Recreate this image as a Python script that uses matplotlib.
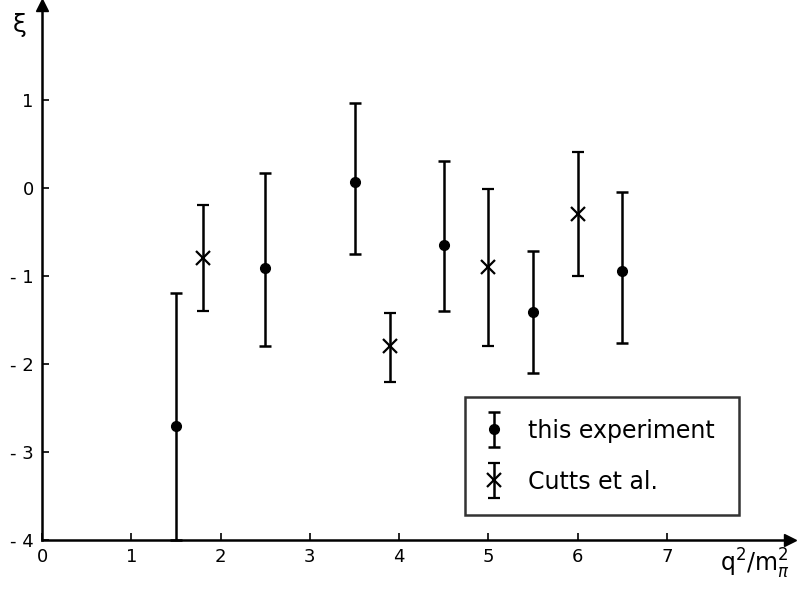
import matplotlib
matplotlib.use("Agg")
import matplotlib.pyplot as plt
from matplotlib.legend_handler import HandlerErrorbar
from matplotlib.container import ErrorbarContainer

# this experiment
x_exp = [1.5, 2.5, 3.5, 4.5, 5.5, 6.5]
y_exp = [-2.7, -0.91, 0.07, -0.65, -1.41, -0.95]
lo_exp = [-4.0, -1.8, -0.75, -1.4, -2.1, -1.76]
hi_exp = [-1.2, 0.17, 0.96, 0.3, -0.72, -0.05]

# Cutts et al.
x_cut = [1.8, 3.9, 5.0, 6.0]
y_cut = [-0.8, -1.8, -0.9, -0.3]
lo_cut = [-1.4, -2.2, -1.8, -1.0]
hi_cut = [-0.2, -1.42, -0.01, 0.4]

xticks = [0, 1, 2, 3, 4, 5, 6, 7]
yticks = [-4, -3, -2, -1, 0, 1]

fig = plt.figure(figsize=(8.02, 5.89), dpi=100)
ax = fig.add_axes([0.0524, 0.083, 0.933, 0.908])

err_exp = [[y - l for y, l in zip(y_exp, lo_exp)], [h - y for y, h in zip(y_exp, hi_exp)]]
err_cut = [[y - l for y, l in zip(y_cut, lo_cut)], [h - y for y, h in zip(y_cut, hi_cut)]]

e1 = ax.errorbar(x_exp, y_exp, yerr=err_exp, fmt="o", color="black", ms=7,
                 elinewidth=1.8, capsize=4.5, capthick=1.8, clip_on=False)
e2 = ax.errorbar(x_cut, y_cut, yerr=err_cut, fmt="x", color="black", ms=10, mew=1.6,
                 elinewidth=1.8, capsize=4.5, capthick=1.8, clip_on=False)

ax.set_xlim(0, 8.38)
ax.set_ylim(-4, 2.07)
ax.spines["top"].set_visible(False)
ax.spines["right"].set_visible(False)
ax.spines["left"].set_linewidth(1.8)
ax.spines["bottom"].set_linewidth(1.8)
ax.plot(1, 0, ">k", ms=9, transform=ax.transAxes, clip_on=False)
ax.plot(0, 1, "^k", ms=9, transform=ax.transAxes, clip_on=False)

ax.set_xticks(xticks)
ax.set_yticks(yticks)
ax.set_xticklabels([str(t) for t in xticks])
ax.set_yticklabels([str(t).replace("-", "- ") for t in yticks])
ax.tick_params(direction="in", length=5, width=1.2, labelsize=13, pad=6)

ax.text(-0.03, 0.985, "ξ", transform=ax.transAxes, fontsize=18, ha="center", va="top")
ax.text(1.0, -0.045, r"$\mathrm{q}^2/\mathrm{m}_\pi^2$", transform=ax.transAxes,
        fontsize=17, ha="right", va="center")

leg = ax.legend([e1, e2], ["this experiment", "Cutts et al."], loc="lower left",
                bbox_to_anchor=(0.549, 0.025, 0.398, 0.22), mode="expand",
                fontsize=17, frameon=True, fancybox=False, edgecolor="black",
                handlelength=0.7, labelspacing=1.15, borderpad=0.9, handletextpad=1.1,
                handler_map={ErrorbarContainer: HandlerErrorbar(xerr_size=0.5, yerr_size=0.75)})
leg.get_frame().set_linewidth(1.8)

fig.savefig("out.png", dpi=100)
